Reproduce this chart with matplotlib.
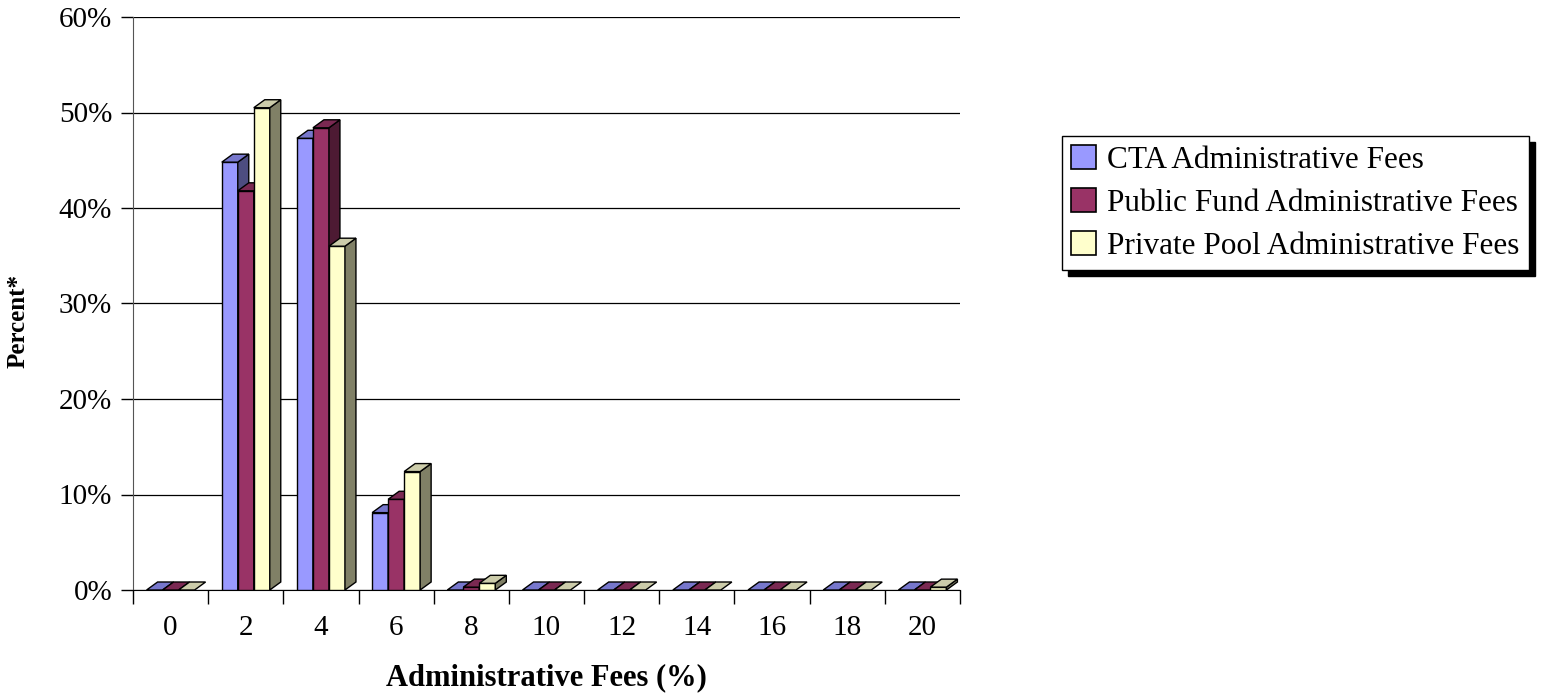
import matplotlib
matplotlib.use("Agg")
import matplotlib.pyplot as plt
from matplotlib.patches import Polygon, Patch
from matplotlib.ticker import PercentFormatter, FixedLocator
import numpy as np

plt.rcParams['font.family'] = ['Liberation Serif', 'DejaVu Serif']

# data
fee_levels = ['0', '2', '4', '6', '8', '10', '12', '14', '16', '18', '20']
series_names = ['CTA Administrative Fees',
                'Public Fund Administrative Fees',
                'Private Pool Administrative Fees']
cta_fees = [0.0, 0.448, 0.473, 0.081, 0.0, 0.0, 0.0, 0.0, 0.0, 0.0, 0.0]
public_fees = [0.0, 0.418, 0.484, 0.095, 0.003, 0.0, 0.0, 0.0, 0.0, 0.0, 0.0]
private_fees = [0.0, 0.505, 0.360, 0.124, 0.007, 0.0, 0.0, 0.0, 0.0, 0.0, 0.003]

# front, top, side colours for each series
colours = [('#9999ff', '#7777cc', '#4d4d80'),
           ('#993366', '#7a2952', '#4d1a33'),
           ('#ffffcc', '#ccccaa', '#808066')]

fig = plt.figure(figsize=(15.48, 6.98), dpi=100)
ax = fig.add_axes([133 / 1548, 1 - 590 / 698, 827 / 1548, 573 / 698])

n = len(fee_levels)
ax.set_xlim(-0.5, n - 0.5)
ax.set_ylim(0, 0.6)

bar_w = 16 / 75.2
dx = 11 / 75.2
dy = 8 * 0.6 / 573

all_series = [cta_fees, public_fees, private_fees]
for i in range(n):
    for s, vals in enumerate(all_series):
        v = vals[i]
        x0 = i + (s - 1.5) * bar_w
        x1 = x0 + bar_w
        front, top, side = colours[s]
        kw = dict(edgecolor='black', linewidth=1.0, zorder=3, joinstyle='miter')
        if v > 0:
            ax.add_patch(Polygon([(x0, 0), (x1, 0), (x1, v), (x0, v)],
                                 closed=True, facecolor=front, **kw))
            ax.add_patch(Polygon([(x1, 0), (x1 + dx, dy), (x1 + dx, v + dy), (x1, v)],
                                 closed=True, facecolor=side, **kw))
        ax.add_patch(Polygon([(x0, v), (x1, v), (x1 + dx, v + dy), (x0 + dx, v + dy)],
                             closed=True, facecolor=top, **kw))

ax.yaxis.set_major_locator(FixedLocator(np.arange(0, 0.61, 0.1)))
ax.yaxis.set_major_formatter(PercentFormatter(1.0, decimals=0))
ax.grid(axis='y', color='black', linewidth=0.9, zorder=0)
ax.set_axisbelow(True)

ax.set_xticks(range(n))
ax.set_xticklabels(fee_levels)
ax.set_xticks(np.arange(-0.5, n, 1.0), minor=True)
ax.tick_params(axis='x', which='major', length=0, pad=18, labelsize=21)
ax.tick_params(axis='x', which='minor', length=10, width=1, direction='out')
ax.tick_params(axis='y', length=9, width=1, direction='out', labelsize=21, pad=6)

for side_name in ['top', 'right']:
    ax.spines[side_name].set_visible(False)
ax.spines['left'].set_color('#555555')
ax.spines['bottom'].set_color('black')

ax.set_xlabel('Administrative Fees (%)', fontsize=22, fontweight='bold')
ax.xaxis.label.set_va('center')
ax.xaxis.set_label_coords(0.5, (590 - 678) / 573)
ax.set_ylabel('Percent*', fontsize=18, fontweight='bold')
ax.yaxis.label.set_va('center')
ax.yaxis.set_label_coords((18 - 133) / 827, (590 - 321) / 573)

handles = [Patch(facecolor=c[0], edgecolor='black', linewidth=1.2) for c in colours]
leg = fig.legend(handles, series_names, loc='upper left',
                 bbox_to_anchor=(1062 / 1548, 1 - 136 / 698),
                 fontsize=22.5, frameon=True, fancybox=False, edgecolor='black',
                 handlelength=0.8, handleheight=0.8, handletextpad=0.35,
                 labelspacing=0.42, borderpad=0.3, borderaxespad=0,
                 shadow={'ox': 4, 'oy': -4, 'facecolor': 'black',
                         'edgecolor': 'black', 'alpha': 1})
leg.get_frame().set_linewidth(1.0)

fig.savefig('out.png', dpi=100)
